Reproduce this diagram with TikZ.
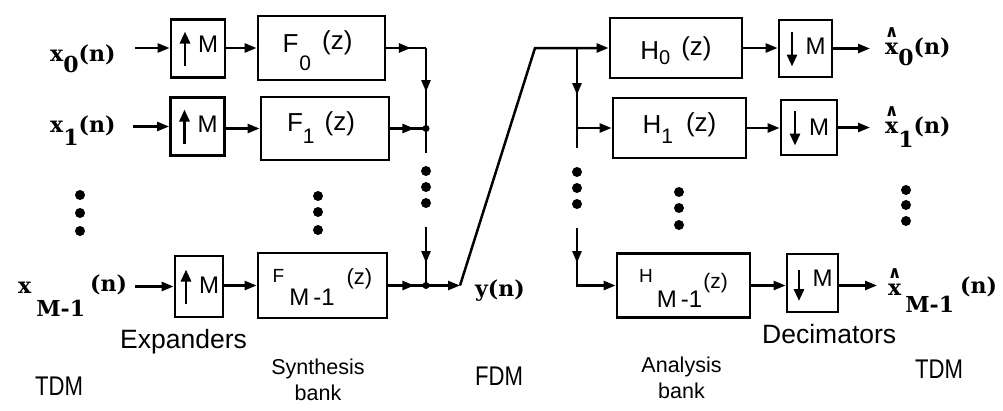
\documentclass[tikz,border=0pt]{standalone}
\usepackage{fontspec}
\setmainfont{Liberation Sans}
\newfontfamily\slabfont{DejaVu Serif}
\newfontfamily\symfont{DejaVu Sans}
\usetikzlibrary{arrows.meta,decorations.markings,calc}

% raised/lowered piece of text that does not change the line height
\newcommand\at[2]{\raisebox{#1}[0pt][0pt]{#2}}
\newcommand\fs[1]{\fontsize{#1}{#1}\selectfont}
% x with a circumflex hat
\newcommand\hatx{\ooalign{x\cr\hidewidth\raisebox{17pt}{\symfont\bfseries\fs{17}∧}\hidewidth\cr}}

\tikzset{
  wire/.style={line width=2.5pt},
  arr/.style={wire,-{Triangle[length=12pt,width=9pt]}},
  tipat/.style={wire,postaction={decorate},
    decoration={markings,mark=at position #1 with {\arrow{Triangle[length=12pt,width=9pt]}}}},
  filt/.style={draw,line width=2.8pt,inner sep=0pt,minimum height=63pt,font=\fs{26}},
  rate/.style={draw,line width=2.8pt,inner sep=0pt,minimum width=54pt,minimum height=58pt,font=\fs{24}},
  rarr/.style={line width=2.8pt,-{Triangle[length=12pt,width=10pt]}},
  jdot/.style={circle,fill,inner sep=0pt,minimum size=7pt},
  vdot/.style={circle,fill,inner sep=0pt,minimum size=10pt},
  sig/.style={inner sep=0pt,anchor=base west,font=\slabfont\bfseries\fs{22}},
  lbl/.style={inner sep=0pt,anchor=base west,font=\fs{26.5}},
  mux/.style={inner sep=0pt,anchor=base west,font=\fs{27}},
  bank/.style={inner sep=0pt,align=center,font=\fontsize{21.5}{26}\selectfont},
}

\begin{document}
\begin{tikzpicture}[x=1pt,y=-1pt]
\useasboundingbox (0,0) rectangle (1003,410);

% ---------------- synthesis side ----------------
\node[sig] (x0) at (50,61)  {x\at{-11pt}{0}(n)};
\node[sig] (x1) at (50,132) {x\at{-13pt}{1}(n)};
\node[sig] (xM) at (18,293) {x\hspace{5pt}\at{-23pt}{M-1}\hspace{5pt}\at{2pt}{(n)}};

\coordinate (i0) at (135,48);
\coordinate (i1) at (133,126.5);
\coordinate (iM) at (135,286.5);

\node[rate] (u0) at (198,48.5) {\hspace*{20pt}\at{-4pt}{M}};
\node[rate] (u1) at (197.5,126.5) {\hspace*{20pt}\at{-6pt}{M}};
\node[rate,minimum width=48pt,minimum height=61pt] (uM) at (199,286.5) {\hspace*{20pt}\at{-7pt}{M}};

\node[filt,minimum width=127pt,minimum height=64pt] (f0) at (321.5,48)
  {\at{-4.5pt}{F}\hspace{1pt}\at{-22pt}{\fs{21}0}\hspace{11pt}\at{-1.5pt}{(z)}\hspace*{8pt}};
\node[filt,minimum width=128pt] (f1) at (325,128.5)
  {\at{-3pt}{F}\at{-15pt}{\fs{21}1}\hspace{10pt}\at{-1.5pt}{(z)}\hspace*{8pt}};
\node[filt,minimum width=129pt,minimum height=65pt] (fM) at (322.5,285.5)
  {\at{3.5pt}{\fs{19}F}\hspace{5pt}\at{-19.5pt}{\fs{24}M\,-1}\hspace{12pt}\at{1pt}{\fs{22}(z)}};

% arrows inside the expanders
\foreach \u in {u0,u1,uM}
  \draw[rarr] ($(\u.center)+(-13,17)$) -- ($(\u.center)+(-13,-17)$);

\draw[arr] (i0) -- (u0.west |- i0);
\draw[arr] (i1) -- (u1.west);
\draw[arr] (iM) -- (uM.west);
\draw[arr] (u0.east |- f0.west) -- (f0.west);
\draw[arr] (u1.east |- f1.west) -- (f1.west);
\draw[arr] (uM.east |- fM.west) -- (fM.west);

% adder chain
\coordinate (j0) at (426,48);
\coordinate (j1) at (426,128.5);
\coordinate (c1) at (426,153);
\coordinate (c2) at (426,227);
\coordinate (jM) at (426,285.5);
\coordinate (yc) at (460,285.5);

\draw[tipat=24.5pt] (f0.east) -- (j0);
\draw[tipat=44pt,line join=miter] (j0) -- (j1) -- (c1);
\draw[tipat=24pt] (f1.east) -- (j1);
\draw[tipat=36pt] (c2) -- (jM);
\draw[tipat=26pt] (fM.east) -- (jM);
\node[jdot] (d1) at (j1) {};
\node[jdot] (dM) at (jM) {};
\draw[arr] (jM) -- (yc);

\node[vdot] (a1) at (426,171) {};
\node[vdot] (a2) at (426,187) {};
\node[vdot] (a3) at (426,203) {};

\node[sig] (yn) at (475,296) {y(n)};

% ---------------- analysis side ----------------
\node[filt,minimum width=132pt,minimum height=60pt] (h0) at (676,48)
  {\at{-11pt}{H}\at{-16pt}{\fs{20}0}\hspace{11pt}\at{-7.5pt}{(z)}};
\node[filt,minimum width=133pt,minimum height=60pt] (h1) at (679.5,128)
  {\at{-5pt}{H}\at{-15pt}{\fs{21}1}\hspace{13pt}\at{-3pt}{(z)}};
\node[filt,minimum width=133pt,minimum height=64pt] (hM) at (683.5,285.5)
  {\at{3pt}{\fs{19}H}\hspace{4pt}\at{-21.5pt}{\fs{24}M\,-1}\hspace{1pt}\at{-3pt}{\fs{21}(z)}};

\node[rate,minimum width=53pt,minimum height=57pt] (e0) at (805.5,48.5) {\hspace*{20pt}\at{-6pt}{M}};
\node[rate,minimum width=56pt,minimum height=55pt] (e1) at (809,127.5) {\hspace*{20pt}\at{-8pt}{M}};
\node[rate,minimum width=51pt,minimum height=58pt] (eM) at (812.5,283) {\hspace*{20pt}\at{-3pt}{M}};

% arrows inside the decimators
\draw[rarr] ($(e0.center)+(-13.5,-17)$) -- ($(e0.center)+(-13.5,18)$);
\draw[rarr] ($(e1.center)+(-14,-17)$) -- ($(e1.center)+(-14,18)$);
\draw[rarr] ($(eM.center)+(-13.5,-13)$) -- ($(eM.center)+(-13.5,18)$);

\coordinate (top) at (535,48);
\coordinate (b0) at (577,48);
\coordinate (b1) at (577,128);
\coordinate (c3) at (577,148);
\coordinate (c4) at (577,228);
\coordinate (bM) at (577,285.5);

\draw[arr,line join=miter] (yc) -- (top) -- (h0.west);
\draw[tipat=47pt] (b0) -- (b1) -- (c3);
\draw[arr] (b1) -- (h1.west);
\draw[arr,tipat=35pt] (c4) -- (bM) -- (hM.west);

\node[vdot] (r1) at (577,172) {};
\node[vdot] (r2) at (577,188) {};
\node[vdot] (r3) at (577,204) {};

\draw[arr] (h0.east) -- (e0.west |- h0.east);
\draw[arr] (h1.east) -- (e1.west |- h1.east);
\draw[arr] (hM.east) -- (eM.west |- hM.east);

\coordinate (o0) at (870,48.5);
\coordinate (o1) at (870,127.5);
\coordinate (oM) at (877,285.5);
\draw[arr] (e0.east |- o0) -- (o0);
\draw[arr] (e1.east |- o1) -- (o1);
\draw[arr] (eM.east |- oM) -- (oM);

\node[sig] (z0) at (885,54)  {\hatx\at{-11pt}{0}(n)};
\node[sig] (z1) at (885,133) {\hatx\at{-14pt}{1}(n)};
\node[sig] (zM) at (888,295) {\hatx\hspace{4pt}\at{-17pt}{M-1}\hspace{6pt}\at{2pt}{(n)}};

% vertical ellipses between the rows
\foreach \cx/\ya/\yb/\yc/\nm in {80/195/213/231/p, 318/196/212/230/q, 679/192/208/225/s, 906/190/205/221/t} {
  \node[vdot] (\nm1) at (\cx,\ya) {};
  \node[vdot] (\nm2) at (\cx,\yb) {};
  \node[vdot] (\nm3) at (\cx,\yc) {};
}

% ---------------- captions ----------------
\node[lbl] (exp) at (120,348) {Expanders};
\node[lbl] (dec) at (762,343) {Decimators};
\node[mux] (tdm1) at (35,395) {\scalebox{0.82}[1]{TDM}};
\node[mux] (fdm)  at (475,385) {\scalebox{0.82}[1]{FDM}};
\node[mux] (tdm2) at (915,378) {\scalebox{0.82}[1]{TDM}};
\node[bank] (syn) at (318,380) {Synthesis\\bank};
\node[bank] (ana) at (681.5,378) {Analysis\\bank};
\end{tikzpicture}
\end{document}
